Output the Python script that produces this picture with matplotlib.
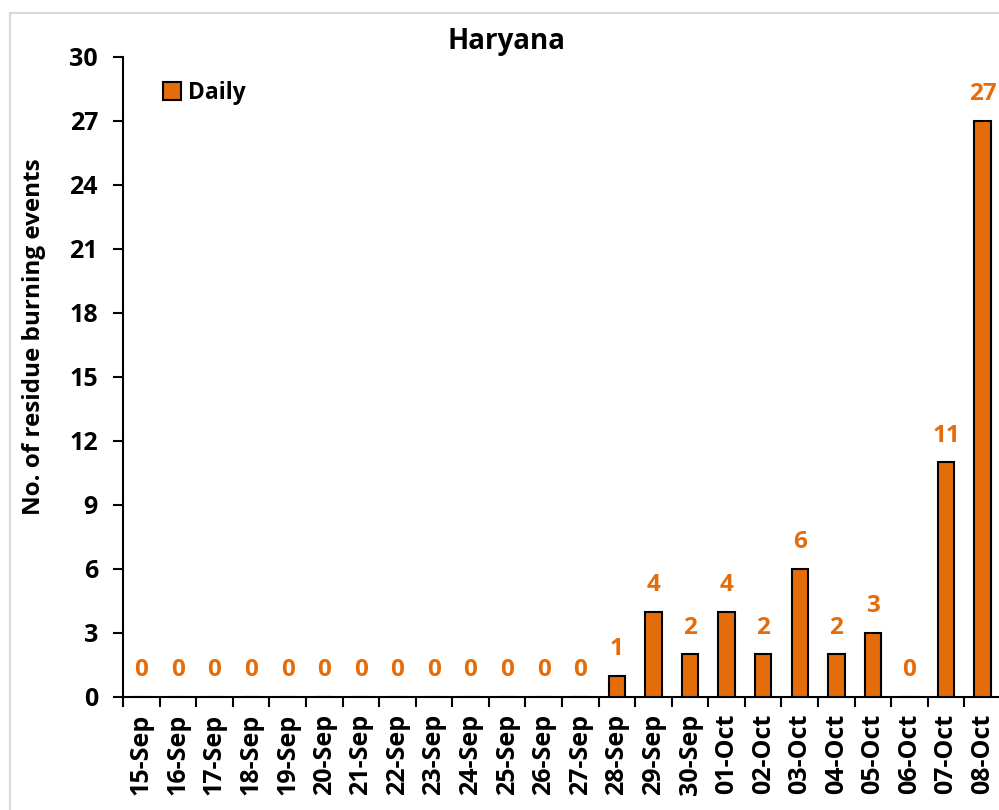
import matplotlib.pyplot as plt
from matplotlib.patches import Rectangle
import numpy as np

dates = ["15-Sep", "16-Sep", "17-Sep", "18-Sep", "19-Sep", "20-Sep", "21-Sep",
         "22-Sep", "23-Sep", "24-Sep", "25-Sep", "26-Sep", "27-Sep", "28-Sep",
         "29-Sep", "30-Sep", "01-Oct", "02-Oct", "03-Oct", "04-Oct", "05-Oct",
         "06-Oct", "07-Oct", "08-Oct"]
daily = [0, 0, 0, 0, 0, 0, 0, 0, 0, 0, 0, 0, 0, 1, 4, 2, 4, 2, 6, 2, 3, 0, 11, 27]
y_ticks = [0, 3, 6, 9, 12, 15, 18, 21, 24, 27, 30]

ORANGE = "#E46C0A"
plt.rcParams['font.family'] = ['Open Sans', 'DejaVu Sans']
plt.rcParams['font.weight'] = 'bold'

fig = plt.figure(figsize=(9.99, 8.1), dpi=100)
fig.patches.append(Rectangle((10 / 999, -0.1), 1.2, 1 - 13 / 810 + 0.1,
                             transform=fig.transFigure, fill=False,
                             edgecolor="#d9d9d9", linewidth=1.5))
ax = fig.add_axes([123 / 999, 1 - 697 / 810, 878 / 999, 640 / 810])

x = np.arange(len(dates))
bars = ax.bar(x, daily, width=0.45, color=ORANGE, edgecolor="black",
              linewidth=1.5, label="Daily", zorder=3)

for xi, v in zip(x, daily):
    ax.annotate(str(v), (xi, v), xytext=(0, 10.5), textcoords="offset points",
                ha="center", va="bottom", color=ORANGE, fontsize=17.5,
                fontweight="bold")

ax.set_xlim(-0.5, len(dates) - 0.5)
ax.set_ylim(0, 30)
ax.set_yticks(y_ticks)
ax.tick_params(axis="y", direction="out", length=7, width=1.5, pad=11,
               labelsize=18)

# Excel-style: ticks at category boundaries, labels at centres
ax.set_xticks(np.arange(len(dates) + 1) - 0.5)
ax.set_xticklabels([])
ax.tick_params(axis="x", which="major", direction="out", length=7, width=1.5)
ax.set_xticks(x, minor=True)
ax.set_xticklabels(dates, minor=True, rotation=90, fontsize=18,
                   fontweight="bold")
ax.tick_params(axis="x", which="minor", length=0, pad=12)

for s in ["top", "right"]:
    ax.spines[s].set_visible(False)
for s in ["left", "bottom"]:
    ax.spines[s].set_linewidth(1.5)

ax.set_ylabel("No. of residue burning events", fontsize=17.5, fontweight="bold")
ax.yaxis.set_label_coords((46 - 123) / 878, (697 - 337) / 640)
fig.text(506 / 999, 1 - 42 / 810, "Haryana", ha="center", va="center",
         fontsize=20, fontweight="bold")

leg = ax.legend(loc="upper left", bbox_to_anchor=(0.022, 0.995), frameon=False,
                handlelength=0.8, handleheight=0.8, handletextpad=0.3,
                prop={"weight": "bold", "size": 16.5})

fig.savefig("out.png", dpi=100)
